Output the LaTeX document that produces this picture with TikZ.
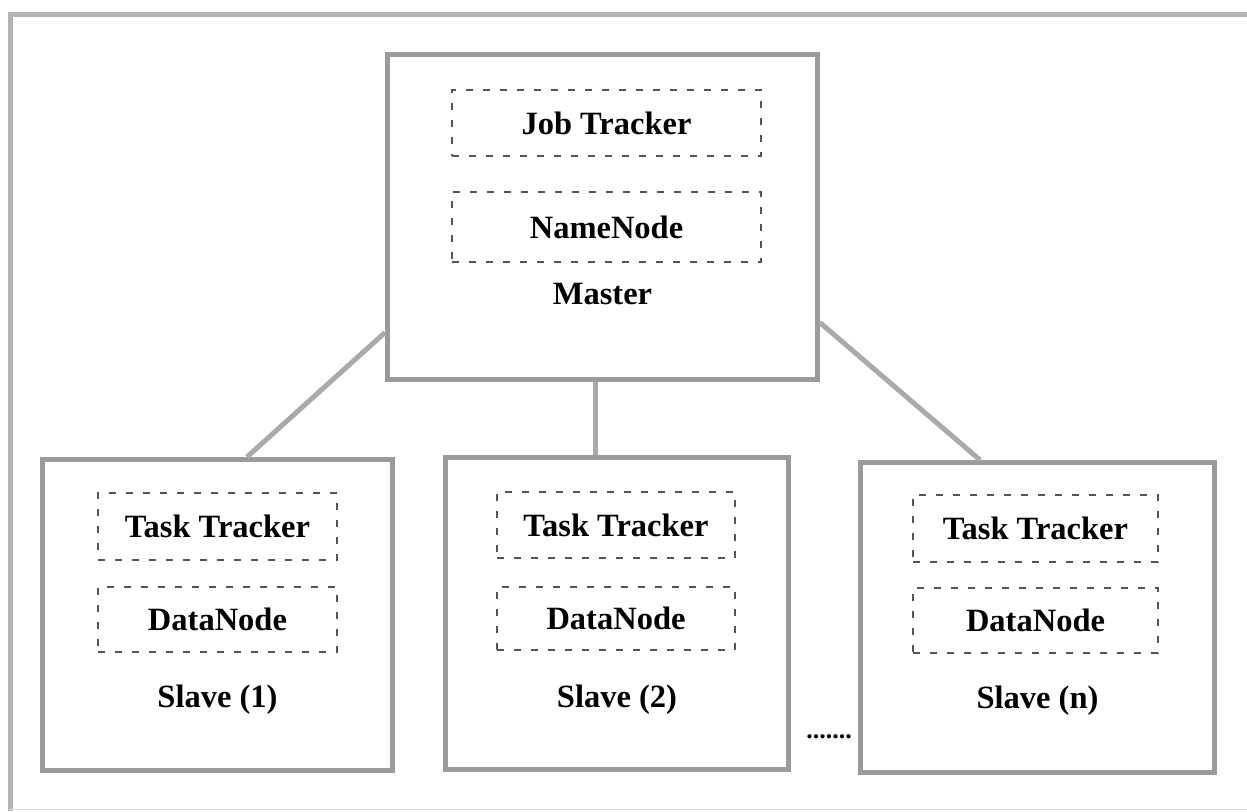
\documentclass[tikz,border=0pt]{standalone}
\usepackage{fontspec}
\setmainfont{Liberation Serif}
\usetikzlibrary{calc}
\definecolor{frameGray}{RGB}{155,155,155}
\definecolor{linkGray}{RGB}{170,170,170}
\definecolor{dashGray}{RGB}{85,85,85}
\definecolor{pageGray}{RGB}{180,180,180}
\begin{document}
\begin{tikzpicture}[x=1pt,y=-1pt,
  machine/.style={draw=frameGray, line width=5pt, fill=white, rectangle, inner sep=0pt},
  daemon/.style={draw=dashGray, line width=1.4pt, dash pattern=on 7pt off 10pt,
    rectangle, inner sep=0pt, font=\bfseries\fontsize{32.5}{38}\selectfont,
    text height=22pt, text depth=0pt},
  roletext/.style={anchor=base, inner sep=0pt, font=\bfseries\fontsize{32.5}{38}\selectfont},
  link/.style={draw=linkGray, line width=5pt}
]
\useasboundingbox (0,0) rectangle (1247,811);

% page frame
\draw[pageGray, line width=5pt] (10,811) -- (10,14) -- (1247,14);
\draw[pageGray!40, line width=1pt] (10,809) -- (1247,809);

% master machine
\node[machine, minimum width=430pt, minimum height=325pt] (master) at (602.5,217) {};
\node[daemon, minimum width=309pt, minimum height=66pt] (jt) at (606.5,123) {Job Tracker};
\node[daemon, minimum width=309pt, minimum height=70pt] (nn) at (606.5,227) {NameNode};
\node[roletext] (mlabel) at (602.5,304) {Master};

% slave machines
\node[machine, minimum width=350pt, minimum height=311pt] (s1) at (217.5,615) {};
\node[daemon, minimum width=239pt, minimum height=67pt] (tt1) at (217.5,526.5) {Task Tracker};
\node[daemon, minimum width=239pt, minimum height=65pt] (dn1) at (217.5,619.5) {DataNode};
\node[roletext] (s1label) at (217.5,707) {Slave (1)};

\node[machine, minimum width=343pt, minimum height=312pt] (s2) at (617,613.5) {};
\node[daemon, minimum width=238pt, minimum height=66pt] (tt2) at (616,525) {Task Tracker};
\node[daemon, minimum width=238pt, minimum height=63pt] (dn2) at (616,618.5) {DataNode};
\node[roletext] (s2label) at (617,707) {Slave (2)};

\node[machine, minimum width=354pt, minimum height=310pt] (sn) at (1037.5,617.5) {};
\node[daemon, minimum width=245pt, minimum height=67pt] (ttn) at (1035.5,528.5) {Task Tracker};
\node[daemon, minimum width=245pt, minimum height=65pt] (dnn) at (1035.5,620.5) {DataNode};
\node[roletext] (snlabel) at (1037.5,708) {Slave (n)};

\node[anchor=base, inner sep=0pt, font=\bfseries\fontsize{26}{30}\selectfont] (dots) at (829,738) {.......};

% links from master to slaves
\coordinate (mL) at ($(master.west)!0.70!(master.south west)$);
\coordinate (mB) at ($(master.south west)!0.485!(master.south east)$);
\coordinate (mR) at ($(master.east)!0.64!(master.south east)$);
\coordinate (s1T) at ($(s1.north west)!0.583!(s1.north east)$);
\coordinate (snT) at ($(sn.north west)!0.34!(sn.north east)$);
\draw[link] (mL) -- (s1T);
\draw[link] (mB) -- (mB |- s2.north);
\draw[link] (mR) -- (snT);
\end{tikzpicture}
\end{document}
